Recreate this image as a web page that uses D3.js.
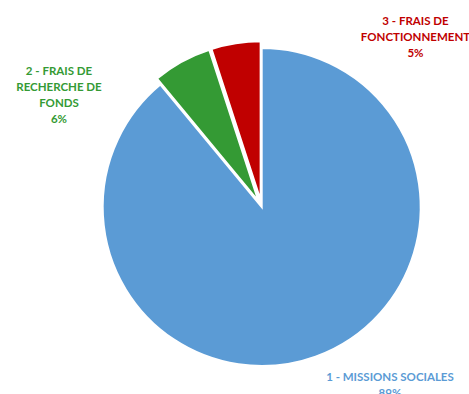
<!DOCTYPE html>
<html>
<head>
<meta charset="utf-8">
<script src="https://cdn.jsdelivr.net/npm/d3@7"></script>
<style>
  html, body { margin: 0; padding: 0; background: #fff; overflow: hidden; }
  svg { display: block; }
  text { font-family: Lato, "Open Sans", sans-serif; font-weight: 700; }
</style>
</head>
<body>
<svg id="chart" width="469" height="394"></svg>
<script>
// Répartition des dépenses
const categories = ["1 - MISSIONS SOCIALES", "2 - FRAIS DE RECHERCHE DE FONDS", "3 - FRAIS DE FONCTIONNEMENT"];
const values = [89, 6, 5];
const labelLines = [
  ["1 - MISSIONS SOCIALES", "89%"],
  ["2 - FRAIS DE", "RECHERCHE DE", "FONDS", "6%"],
  ["3 - FRAIS DE", "FONCTIONNEMENT", "5%"]
];
const colors = ["#5B9BD5", "#349A34", "#C00000"];
const exploded = [false, true, true];

const svg = d3.select("#chart");
const cx = 261.7, cy = 207, radius = 159, explode = 6.8;

const data = categories.map((c, i) => ({ name: c, value: values[i], i }));
const pie = d3.pie().sort(null).value(d => d.value).startAngle(0).endAngle(2 * Math.PI);
const arc = d3.arc().innerRadius(0).outerRadius(radius);

const g = svg.append("g").attr("transform", `translate(${cx},${cy})`);

g.selectAll("path.slice")
  .data(pie(data))
  .join("path")
  .attr("class", "slice")
  .attr("d", arc)
  .attr("fill", d => colors[d.data.i])
  .attr("stroke", "#fff")
  .attr("stroke-width", 2)
  .attr("stroke-linejoin", "miter")
  .attr("transform", d => {
    if (!exploded[d.data.i]) return null;
    const mid = (d.startAngle + d.endAngle) / 2;
    return `translate(${explode * Math.sin(mid)},${-explode * Math.cos(mid)})`;
  });

// Étiquettes (centre de la première ligne)
const labelPos = [[390, 376.5], [59, 70.8], [415.5, 20.8]];
const lineHeight = 16;

labelLines.forEach((lines, i) => {
  const t = svg.append("text")
    .attr("text-anchor", "middle")
    .attr("fill", colors[i])
    .attr("font-size", 11.5);
  lines.forEach((ln, k) => {
    t.append("tspan")
      .attr("x", labelPos[i][0])
      .attr("y", labelPos[i][1] + k * lineHeight)
      .attr("dy", "0.36em")
      .text(ln);
  });
});
</script>
</body>
</html>
